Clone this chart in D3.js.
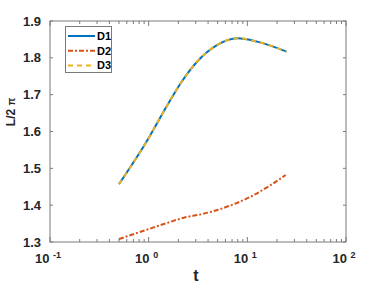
<!DOCTYPE html>
<html>
<head>
<meta charset="utf-8">
<script src="https://cdn.jsdelivr.net/npm/d3@7"></script>
<style>
  body { margin: 0; background: #fff; }
  svg { font-family: "Liberation Sans", Arial, sans-serif; }
</style>
</head>
<body>
<svg id="chart" width="382" height="287"></svg>
<script>
// values
var tD1 = [0.5, 0.93, 1.55, 2.11, 3.11, 4.97, 7.93, 12.6, 25];
var vD1 = [1.457, 1.568, 1.672, 1.731, 1.790, 1.835, 1.853, 1.844, 1.817];
var tD2 = [0.5, 1.05, 1.55, 2.28, 3.37, 4.97, 7.33, 10.8, 16.0, 24.5];
var vD2 = [1.308, 1.337, 1.352, 1.366, 1.375, 1.387, 1.403, 1.423, 1.449, 1.482];
var tD3 = tD1;
var vD3 = vD1;
var yTicks = [1.3, 1.4, 1.5, 1.6, 1.7, 1.8, 1.9];
var xExps = [-1, 0, 1, 2];
var names = ['D1', 'D2', 'D3'];
var colors = ['#0072BD', '#D95319', '#EDB120'];

var svg = d3.select('#chart');
var pLeft = 50, pRight = 346, pTop = 21, pBottom = 242;

var x = d3.scaleLog().domain([0.1, 100]).range([pLeft, pRight]);
var y = d3.scaleLinear().domain([1.3, 1.9]).range([pBottom, pTop]);

var axisColor = '#7a7a7a';
var textColor = '#262626';

// minor x ticks
var minor = [];
xExps.slice(0, 3).forEach(function(e) {
    for (var k = 2; k <= 9; k++) minor.push(k * Math.pow(10, e));
});

var g = svg.append('g');

g.selectAll('line.xminor')
    .data(minor)
    .enter()
    .append('line')
    .attr('x1', function(d) { return x(d); })
    .attr('x2', function(d) { return x(d); })
    .attr('y1', pBottom)
    .attr('y2', pBottom - 3)
    .style('stroke', axisColor);

g.selectAll('line.xminortop')
    .data(minor)
    .enter()
    .append('line')
    .attr('x1', function(d) { return x(d); })
    .attr('x2', function(d) { return x(d); })
    .attr('y1', pTop)
    .attr('y2', pTop + 3)
    .style('stroke', axisColor);

g.selectAll('line.xmajor')
    .data(xExps)
    .enter()
    .append('line')
    .attr('x1', function(d) { return x(Math.pow(10, d)); })
    .attr('x2', function(d) { return x(Math.pow(10, d)); })
    .attr('y1', pBottom)
    .attr('y2', pBottom - 5)
    .style('stroke', axisColor);

g.selectAll('line.xmajortop')
    .data(xExps)
    .enter()
    .append('line')
    .attr('x1', function(d) { return x(Math.pow(10, d)); })
    .attr('x2', function(d) { return x(Math.pow(10, d)); })
    .attr('y1', pTop)
    .attr('y2', pTop + 5)
    .style('stroke', axisColor);

g.selectAll('line.yl')
    .data(yTicks)
    .enter()
    .append('line')
    .attr('x1', pLeft)
    .attr('x2', pLeft + 3)
    .attr('y1', function(d) { return y(d); })
    .attr('y2', function(d) { return y(d); })
    .style('stroke', axisColor);

g.selectAll('line.yr')
    .data(yTicks)
    .enter()
    .append('line')
    .attr('x1', pRight)
    .attr('x2', pRight - 3)
    .attr('y1', function(d) { return y(d); })
    .attr('y2', function(d) { return y(d); })
    .style('stroke', axisColor);

// box
g.append('rect')
    .attr('x', pLeft)
    .attr('y', pTop)
    .attr('width', pRight - pLeft)
    .attr('height', pBottom - pTop)
    .style('fill', 'none')
    .style('stroke', axisColor);

// tick labels
g.selectAll('text.ylab')
    .data(yTicks)
    .enter()
    .append('text')
    .attr('x', pLeft - 9)
    .attr('y', function(d) { return y(d) + 4.5; })
    .attr('text-anchor', 'end')
    .style('font-size', '13px')
    .style('font-weight', 'bold')
    .style('fill', textColor)
    .text(function(d) { return d.toFixed(1); });

var xl = g.selectAll('text.xlab')
    .data(xExps)
    .enter()
    .append('text')
    .attr('x', function(d) { return x(Math.pow(10, d)) - 2; })
    .attr('y', 263)
    .attr('text-anchor', 'middle')
    .style('font-size', '13px')
    .style('font-weight', 'bold')
    .style('fill', textColor);
xl.append('tspan').text('10 ');
xl.append('tspan')
    .attr('dy', -5)
    .style('font-size', '9px')
    .text(function(d) { return String(d); });

// axis titles
g.append('text')
    .attr('x', 196)
    .attr('y', 281)
    .attr('text-anchor', 'middle')
    .style('font-size', '16px')
    .style('font-weight', 'bold')
    .style('fill', textColor)
    .text('t');

var yl = g.append('text')
    .attr('transform', 'translate(15,112) rotate(-90)')
    .attr('text-anchor', 'middle')
    .style('font-size', '12px')
    .style('font-weight', 'bold')
    .style('fill', textColor);
yl.append('tspan').text('L/2 ');
yl.append('tspan')
    .style('font-size', '10px')
    .text('π');

// lines
var line = d3.line()
    .x(function(d) { return x(d[0]); })
    .y(function(d) { return y(d[1]); })
    .curve(d3.curveMonotoneX);

var series = [
    { pts: d3.zip(tD1, vD1), color: colors[0], dash: null },
    { pts: d3.zip(tD2, vD2), color: colors[1], dash: '5,2,2,2' },
    { pts: d3.zip(tD3, vD3), color: colors[2], dash: '5,4' }
];

svg.selectAll('path.series')
    .data(series)
    .enter()
    .append('path')
    .attr('d', function(s) { return line(s.pts); })
    .style('fill', 'none')
    .style('stroke', function(s) { return s.color; })
    .style('stroke-width', 2)
    .style('stroke-dasharray', function(s) { return s.dash; });

// legend
var lg = svg.append('g');
lg.append('rect')
    .attr('x', 65.5)
    .attr('y', 26.5)
    .attr('width', 46)
    .attr('height', 46)
    .style('fill', '#fff')
    .style('stroke', axisColor);

var items = lg.selectAll('g.item')
    .data(series)
    .enter()
    .append('g')
    .attr('transform', function(s, i) { return 'translate(0,' + (36 + i * 14.7) + ')'; });

items.append('line')
    .attr('x1', 68)
    .attr('x2', 95)
    .attr('y1', 0)
    .attr('y2', 0)
    .style('stroke', function(s) { return s.color; })
    .style('stroke-width', 2)
    .style('stroke-dasharray', function(s) { return s.dash; });

items.append('text')
    .attr('x', 97)
    .attr('y', 4)
    .style('font-size', '11px')
    .style('font-weight', 'bold')
    .style('fill', '#000')
    .text(function(s, i) { return names[i]; });
</script>
</body>
</html>
